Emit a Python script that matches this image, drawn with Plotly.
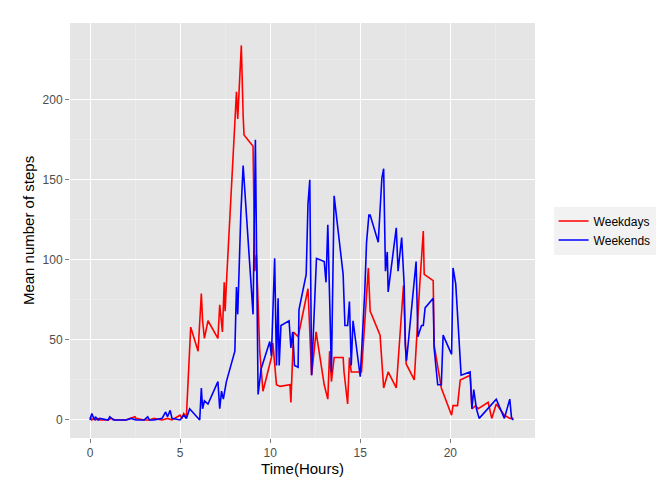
import plotly.graph_objects as go

wd_x = [0.0,0.1,0.2,0.3,0.45,0.55,1.0,1.2,1.4,1.55,2.0,2.2,2.5,2.55,3.0,3.3,3.55,4.0,4.3,4.55,5.0,5.1,5.2,5.35,5.44,5.59,6.0,6.18,6.25,6.35,6.55,7.1,7.2,7.35,7.45,7.5,7.57,8.04,8.13,8.2,8.3,8.4,8.5,8.55,9.05,9.15,9.24,9.42,9.6,10.07,10.15,10.35,10.55,11.1,11.15,11.3,11.55,12.1,12.3,12.55,13.0,13.2,13.3,13.4,13.55,14.05,14.1,14.3,14.4,14.5,15.07,15.45,15.55,16.1,16.3,16.55,17.0,17.4,17.55,18.0,18.3,18.5,18.55,19.05,19.1,19.5,20.07,20.15,20.4,20.55,21.1,21.2,21.4,21.55,22.1,22.3,22.55,23.0,23.3,23.5]
wd_y = [2,0,1,0,1,0,0,1,0,0,0,1,2,1,0,0,1,0,1,0,3,1,4,2,24,58,43,79,62,51,62,51,72,55,86,68,85,187,205,188,210,234,190,178,171,93,103,43,18,39,48,22,21,22,11,55,52,82,28,55,22,13,43,24,39,39,30,10,39,30,30,95,68,53,20,30,20,84,35,25,84,118,91,87,47,20,3,9,9,25,28,7,9,7,11,1,10,3,1,1]

we_x = [0.0,0.1,0.25,0.3,0.45,0.55,1.0,1.1,1.3,1.55,2.0,2.3,2.55,3.0,3.2,3.3,3.55,4.0,4.2,4.3,4.45,4.55,5.0,5.2,5.35,5.53,6.09,6.18,6.25,6.35,6.55,7.1,7.2,7.3,7.4,7.57,8.04,8.13,8.2,8.37,8.5,9.05,9.18,9.33,9.5,9.98,10.07,10.25,10.35,10.44,10.5,10.6,11.05,11.15,11.25,11.35,11.55,11.6,12.0,12.1,12.2,12.3,12.57,13.0,13.1,13.2,13.3,13.4,13.55,14.05,14.15,14.3,14.4,14.5,14.6,15.0,15.25,15.35,15.48,15.55,16.0,16.2,16.3,16.4,16.5,16.55,17.0,17.1,17.3,17.44,17.5,17.57,18.1,18.2,18.4,18.5,18.6,19.05,19.1,19.3,19.5,19.6,20.07,20.15,20.3,20.45,20.6,21.1,21.2,21.3,21.45,21.6,22.55,23.0,23.3,23.4,23.5]
we_y = [0,4,0,2,0,1,0,2,0,0,0,1,0,0,2,0,0,1,5,2,6,1,0,3,1,7,0,20,7,12,10,24,7,18,13,24,43,83,66,128,159,66,175,16,32,49,40,101,34,76,34,59,62,45,55,34,33,69,91,135,150,28,101,99,86,122,80,30,140,91,59,59,74,34,62,27,80,111,128,128,111,151,157,93,105,80,120,93,114,84,47,37,99,52,59,59,70,76,45,22,22,53,41,95,85,52,28,30,7,19,7,1,13,1,13,1,0]

fig = go.Figure()
fig.add_trace(go.Scatter(x=wd_x, y=wd_y, mode="lines", name="Weekdays", line=dict(color="#FF0000", width=1.6)))
fig.add_trace(go.Scatter(x=we_x, y=we_y, mode="lines", name="Weekends", line=dict(color="#0000FF", width=1.6)))

ax = dict(showline=False, zeroline=False, automargin=False, gridcolor="white", gridwidth=1.4, ticks="outside", ticklen=4, tickcolor="#7F7F7F",
          tickfont=dict(family="Liberation Sans", size=12, color="#4D4D4D"),
          minor=dict(showgrid=True, gridcolor="#EBEBEB", gridwidth=0.6))
fig.update_xaxes(ax, range=[-1.11, 24.7], tickvals=[0,5,10,15,20], minor_tickvals=[2.5,7.5,12.5,17.5,22.5],
                 title=dict(text="Time(Hours)", font=dict(family="Liberation Sans", size=15, color="black"), standoff=2))
fig.update_yaxes(ax, range=[-11.25, 248], tickvals=[0,50,100,150,200], minor_tickvals=[25,75,125,175,225],
                 title=dict(text="Mean number of steps", font=dict(family="Liberation Sans", size=15, color="black"), standoff=4))
fig.update_layout(width=672, height=480, paper_bgcolor="white", plot_bgcolor="#E5E5E5",
                  margin=dict(l=62, r=145, t=15, b=50),
                  legend=dict(x=1.04, y=0.5, yanchor="middle", bgcolor="#F2F2F2",
                              font=dict(family="Liberation Sans", size=12, color="black")),
                  font=dict(family="Liberation Sans"))
fig.write_html("out.html")
